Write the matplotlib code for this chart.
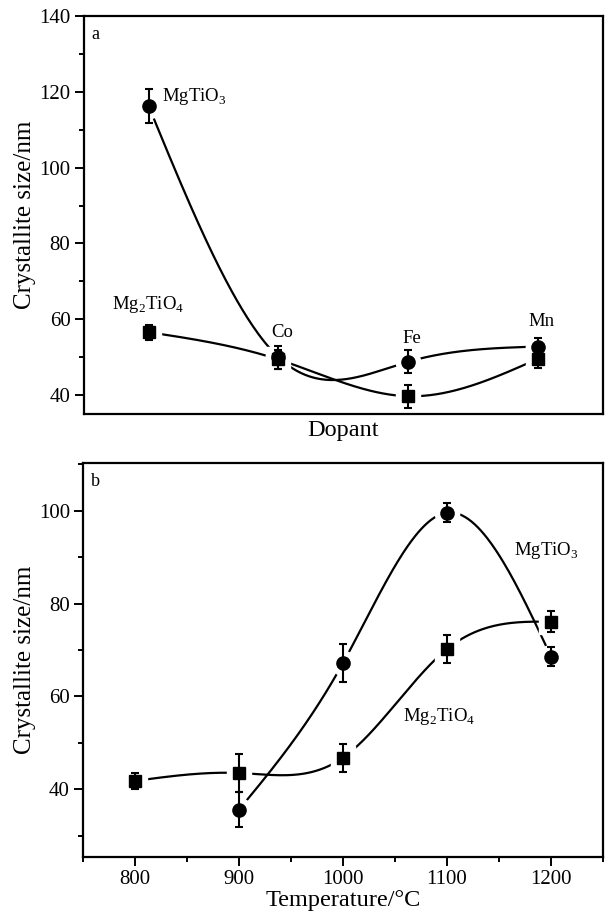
import numpy as np
import matplotlib
matplotlib.use("Agg")
import matplotlib.pyplot as plt
from matplotlib.ticker import MultipleLocator

plt.rcParams['font.family'] = ['Liberation Serif', 'DejaVu Serif']
plt.rcParams['mathtext.fontset'] = 'custom'
plt.rcParams['mathtext.rm'] = 'Liberation Serif'

# panel a: dopant series
dopant_labels = ['', 'Co', 'Fe', 'Mn']
dopant_pos = [1, 2, 3, 4]
a_mgtio3 = [116.3, 50.0, 48.8, 52.8]
a_mgtio3_err = [4.5, 3.0, 3.0, 2.3]
a_mg2tio4 = [56.6, 49.4, 39.7, 49.6]
a_mg2tio4_err = [2.0, 2.5, 3.0, 2.4]

# panel b: temperature series
temp_mgtio3 = [900, 1000, 1100, 1200]
b_mgtio3 = [35.6, 67.2, 99.6, 68.6]
b_mgtio3_err = [3.7, 4.0, 2.1, 2.0]
temp_mg2tio4 = [800, 900, 1000, 1100, 1200]
b_mg2tio4 = [41.8, 43.5, 46.8, 70.2, 76.1]
b_mg2tio4_err = [1.8, 4.0, 3.0, 3.0, 2.2]


def natural_spline(x, y, n=300):
    x = np.asarray(x, float)
    y = np.asarray(y, float)
    k = len(x)
    h = np.diff(x)
    A = np.zeros((k, k))
    r = np.zeros(k)
    A[0, 0] = A[-1, -1] = 1
    for i in range(1, k - 1):
        A[i, i - 1] = h[i - 1]
        A[i, i] = 2 * (h[i - 1] + h[i])
        A[i, i + 1] = h[i]
        r[i] = 6 * ((y[i + 1] - y[i]) / h[i] - (y[i] - y[i - 1]) / h[i - 1])
    m = np.linalg.solve(A, r)
    xs = np.linspace(x[0], x[-1], n)
    idx = np.clip(np.searchsorted(x, xs) - 1, 0, k - 2)
    x0, x1 = x[idx], x[idx + 1]
    hh = x1 - x0
    t0, t1 = x1 - xs, xs - x0
    ys = (m[idx] * t0 ** 3 + m[idx + 1] * t1 ** 3) / (6 * hh) \
        + (y[idx] / hh - m[idx] * hh / 6) * t0 \
        + (y[idx + 1] / hh - m[idx + 1] * hh / 6) * t1
    return xs, ys


def draw_series(ax, x, y, err, marker, ms):
    xs, ys = natural_spline(x, y)
    ax.plot(xs, ys, color='black', lw=1.6, zorder=2)
    # white halo so the curve stops short of each marker
    ax.plot(x, y, linestyle='none', marker=marker, ms=ms + 8,
            color='white', zorder=3)
    ax.errorbar(x, y, yerr=err, fmt=marker, ms=ms, color='black',
                ecolor='black', elinewidth=1.5, capsize=3, capthick=1.5,
                zorder=4)


def style_axes(ax):
    for s in ax.spines.values():
        s.set_linewidth(1.6)
    ax.tick_params(axis='both', direction='out', width=1.4, length=6.5,
                   labelsize=15, pad=3)
    ax.tick_params(which='minor', direction='out', width=1.4, length=3.5)


fig = plt.figure(figsize=(6.06, 9.15), dpi=100)

# --- panel a ---
ax1 = fig.add_axes([0.138, 0.5475, 0.857, 0.435])
draw_series(ax1, dopant_pos, a_mgtio3, a_mgtio3_err, 'o', 9.5)
draw_series(ax1, dopant_pos, a_mg2tio4, a_mg2tio4_err, 's', 9)
ax1.set_xlim(0.5, 4.5)
ax1.set_ylim(35, 140)
ax1.yaxis.set_major_locator(MultipleLocator(20))
ax1.yaxis.set_minor_locator(MultipleLocator(10))
ax1.set_xticks([])
style_axes(ax1)
ax1.set_ylabel('Crystallite size/nm', fontsize=18, labelpad=2)
ax1.set_xlabel('Dopant', fontsize=17.5, labelpad=4)
ax1.text(0.015, 0.975, 'a', transform=ax1.transAxes, fontsize=13,
         ha='left', va='top')
ax1.text(1.1, 118.7, r'MgTiO$_\mathregular{3}$', fontsize=13.5,
         ha='left', va='center')
ax1.text(1.0, 64, r'Mg$_\mathregular{2}$TiO$_\mathregular{4}$', fontsize=13.5,
         ha='center', va='center')
for xp, lab, yl in zip(dopant_pos[1:], dopant_labels[1:], [56.5, 55.0, 59.4]):
    ax1.text(xp + 0.03, yl, lab, fontsize=13.5, ha='center', va='center')

# --- panel b ---
ax2 = fig.add_axes([0.137, 0.0634, 0.858, 0.4306])
draw_series(ax2, temp_mgtio3, b_mgtio3, b_mgtio3_err, 'o', 9.5)
draw_series(ax2, temp_mg2tio4, b_mg2tio4, b_mg2tio4_err, 's', 9)
ax2.set_xlim(750, 1250)
ax2.set_ylim(25.4, 110.3)
ax2.xaxis.set_major_locator(MultipleLocator(100))
ax2.xaxis.set_minor_locator(MultipleLocator(50))
ax2.yaxis.set_major_locator(MultipleLocator(20))
ax2.yaxis.set_minor_locator(MultipleLocator(10))
style_axes(ax2)
ax2.set_ylabel('Crystallite size/nm', fontsize=18, labelpad=2)
ax2.set_xlabel('Temperature/\u00b0C', fontsize=17.5, labelpad=0.5)
ax2.text(0.015, 0.975, 'b', transform=ax2.transAxes, fontsize=13,
         ha='left', va='top')
ax2.text(1195, 91.5, r'MgTiO$_\mathregular{3}$', fontsize=13.5,
         ha='center', va='center')
ax2.text(1092, 55.6, r'Mg$_\mathregular{2}$TiO$_\mathregular{4}$', fontsize=13.5,
         ha='center', va='center')

fig.savefig('out.png', dpi=100)
